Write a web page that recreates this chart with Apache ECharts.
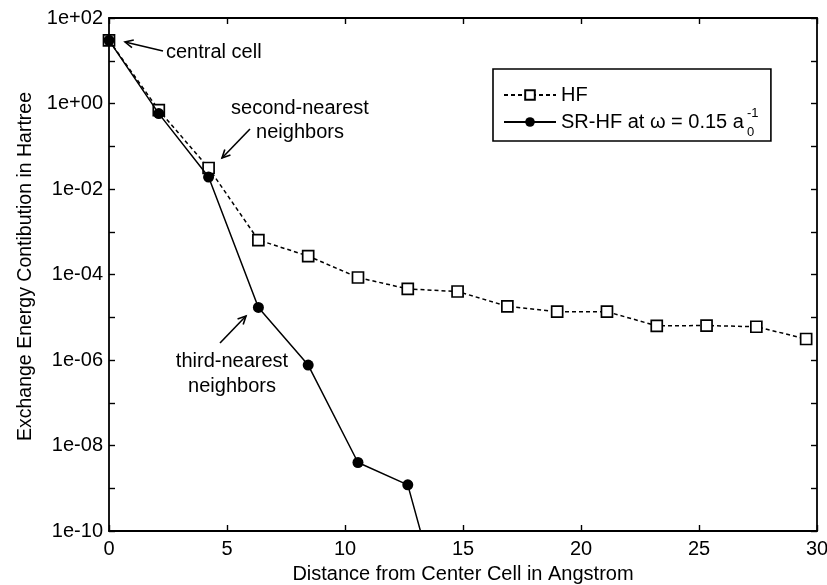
<!DOCTYPE html>
<html><head><meta charset="utf-8">
<script src="https://cdn.jsdelivr.net/npm/echarts@6/dist/echarts.min.js"></script>
<style>html,body{margin:0;padding:0;background:#fff}#c{width:827px;height:585px}</style>
</head><body><div id="c"></div>
<script>
// ---- data ----
const distances = [0, 2.11, 4.22, 6.33, 8.44, 10.55, 12.66, 14.77, 16.88, 18.99, 21.1, 23.21, 25.32, 27.43, 29.54];
const hfValues = [30, 0.7, 0.031, 6.4e-4, 2.7e-4, 8.5e-5, 4.6e-5, 4.0e-5, 1.8e-5, 1.35e-5, 1.35e-5, 6.3e-6, 6.4e-6, 6.0e-6, 3.1e-6];
const srhfValues = [30, 0.58, 0.019, 1.7e-5, 7.6e-7, 4.0e-9, 1.2e-9, 7e-14];
const yTickValues = [1e-10, 1e-9, 1e-8, 1e-7, 1e-6, 1e-5, 1e-4, 1e-3, 1e-2, 1e-1, 1e0, 1e1, 1e2];
const yLabelValues = [1e-10, 1e-8, 1e-6, 1e-4, 1e-2, 1e0, 1e2];
const seriesNames = ['HF', 'SR-HF'];
const legendLabels = ['HF', 'SR-HF at ω = 0.15 a'];
const xAxisTitle = 'Distance from Center Cell in Angstrom';
const yAxisTitle = 'Exchange Energy Contibution in Hartree';

const FONT = '"Liberation Sans", Arial, Helvetica, sans-serif';
const FS = 20;

function expLabel(v) {
  const e = Math.round(Math.log10(v));
  const a = Math.abs(e);
  return '1e' + (e >= 0 ? '+' : '-') + (a < 10 ? '0' + a : '' + a);
}

function arrow(x1, y1, x2, y2) {
  // tail (x1,y1) -> head (x2,y2)
  const ang = Math.atan2(y2 - y1, x2 - x1);
  const L = 9, w = 0.45;
  const p1 = [x2 - L * Math.cos(ang - w), y2 - L * Math.sin(ang - w)];
  const p2 = [x2 - L * Math.cos(ang + w), y2 - L * Math.sin(ang + w)];
  const st = { stroke: '#000', lineWidth: 1.6, fill: null };
  return [
    { type: 'line', shape: { x1: x1, y1: y1, x2: x2, y2: y2 }, style: st, silent: true },
    { type: 'polyline', shape: { points: [p1, [x2, y2], p2] }, style: st, silent: true }
  ];
}
function txt(x, y, s, align) {
  return { type: 'text', x: x, y: y, silent: true,
    style: { text: s, font: FS + 'px ' + FONT, fill: '#000', align: align || 'left', verticalAlign: 'middle' } };
}

const chart = echarts.init(document.getElementById('c'), null, { renderer: 'canvas' });

const axisLineStyle = { color: '#000', width: 1.8 };
const tickStyle = { color: '#000', width: 1.4 };

const option = {
  backgroundColor: '#fff',
  animation: false,
  grid: { left: 109, right: 10, top: 18, bottom: 54, containLabel: false, outerBoundsMode: 'none' },
  legend: {
    orient: 'vertical', left: 493, top: 69,
    padding: [16, 27, 9, 10], itemGap: 7,
    itemWidth: 52, itemHeight: 12,
    borderColor: '#000', borderWidth: 1.6, backgroundColor: '#fff',
    data: seriesNames,
    textStyle: { fontFamily: FONT, fontSize: FS, color: '#000' },
    formatter: function (n) { return legendLabels[seriesNames.indexOf(n)]; }
  },
  xAxis: [{
    type: 'value', min: 0, max: 30, interval: 5, position: 'bottom',
    name: xAxisTitle, nameLocation: 'middle', nameGap: 33,
    nameTextStyle: { fontFamily: FONT, fontSize: FS, color: '#000' },
    axisLine: { show: true, lineStyle: axisLineStyle },
    axisTick: { show: true, inside: true, length: 6, lineStyle: tickStyle },
    axisLabel: { fontFamily: FONT, fontSize: FS, color: '#000', margin: 8 },
    splitLine: { show: false }
  }, {
    type: 'value', min: 0, max: 30, interval: 5, position: 'top',
    axisLine: { show: true, onZero: false, lineStyle: axisLineStyle },
    axisTick: { show: true, inside: true, length: 6, lineStyle: tickStyle },
    axisLabel: { show: false }, splitLine: { show: false }
  }],
  yAxis: [{
    type: 'log', logBase: 10, min: 1e-10, max: 1e2, position: 'left',
    name: yAxisTitle, nameLocation: 'middle', nameGap: 67, nameRotate: 90,
    nameTextStyle: { fontFamily: FONT, fontSize: 19.5, color: '#000', padding: [0, 0, 0, 16] },
    axisLine: { show: true, lineStyle: axisLineStyle },
    axisTick: { show: true, inside: true, length: 6, lineStyle: tickStyle, customValues: yTickValues },
    axisLabel: { fontFamily: FONT, fontSize: FS, color: '#000', margin: 6, customValues: yLabelValues,
      formatter: function (v) { return expLabel(v); } },
    splitLine: { show: false }
  }, {
    type: 'log', logBase: 10, min: 1e-10, max: 1e2, position: 'right',
    axisLine: { show: true, onZero: false, lineStyle: axisLineStyle },
    axisTick: { show: true, inside: true, length: 6, lineStyle: tickStyle, customValues: yTickValues },
    axisLabel: { show: false }, splitLine: { show: false }
  }],
  series: [{
    name: 'HF', type: 'line', xAxisIndex: 0, yAxisIndex: 0,
    data: distances.map((d, i) => [d, hfValues[i]]),
    symbol: 'rect', symbolSize: 11, clip: true, z: 3,
    lineStyle: { color: '#000', width: 1.5, type: [4, 3] },
    itemStyle: { color: '#fff', borderColor: '#000', borderWidth: 1.7 }
  }, {
    name: 'SR-HF', type: 'line', xAxisIndex: 0, yAxisIndex: 0,
    data: srhfValues.map((v, i) => [distances[i], v]),
    symbol: 'circle', symbolSize: 11, clip: true, z: 4,
    lineStyle: { color: '#000', width: 1.5, type: 'solid' },
    itemStyle: { color: '#000', borderColor: '#000', borderWidth: 0 }
  }],
  graphic: [].concat(
    txt(166, 52, 'central cell'),
    arrow(163, 51, 125, 42),
    txt(300, 108, 'second-nearest', 'center'),
    txt(300, 132, 'neighbors', 'center'),
    arrow(250, 129, 222, 158),
    txt(232, 361, 'third-nearest', 'center'),
    txt(232, 386, 'neighbors', 'center'),
    arrow(220, 343, 246, 316),
    [{ type: 'text', x: 747, y: 113, silent: true, z: 100,
       style: { text: '-1', font: '13px ' + FONT, fill: '#000', align: 'left', verticalAlign: 'middle' } },
     { type: 'text', x: 747, y: 132, silent: true, z: 100,
       style: { text: '0', font: '13px ' + FONT, fill: '#000', align: 'left', verticalAlign: 'middle' } }]
  )
};
chart.setOption(option);
</script>
</body></html>
